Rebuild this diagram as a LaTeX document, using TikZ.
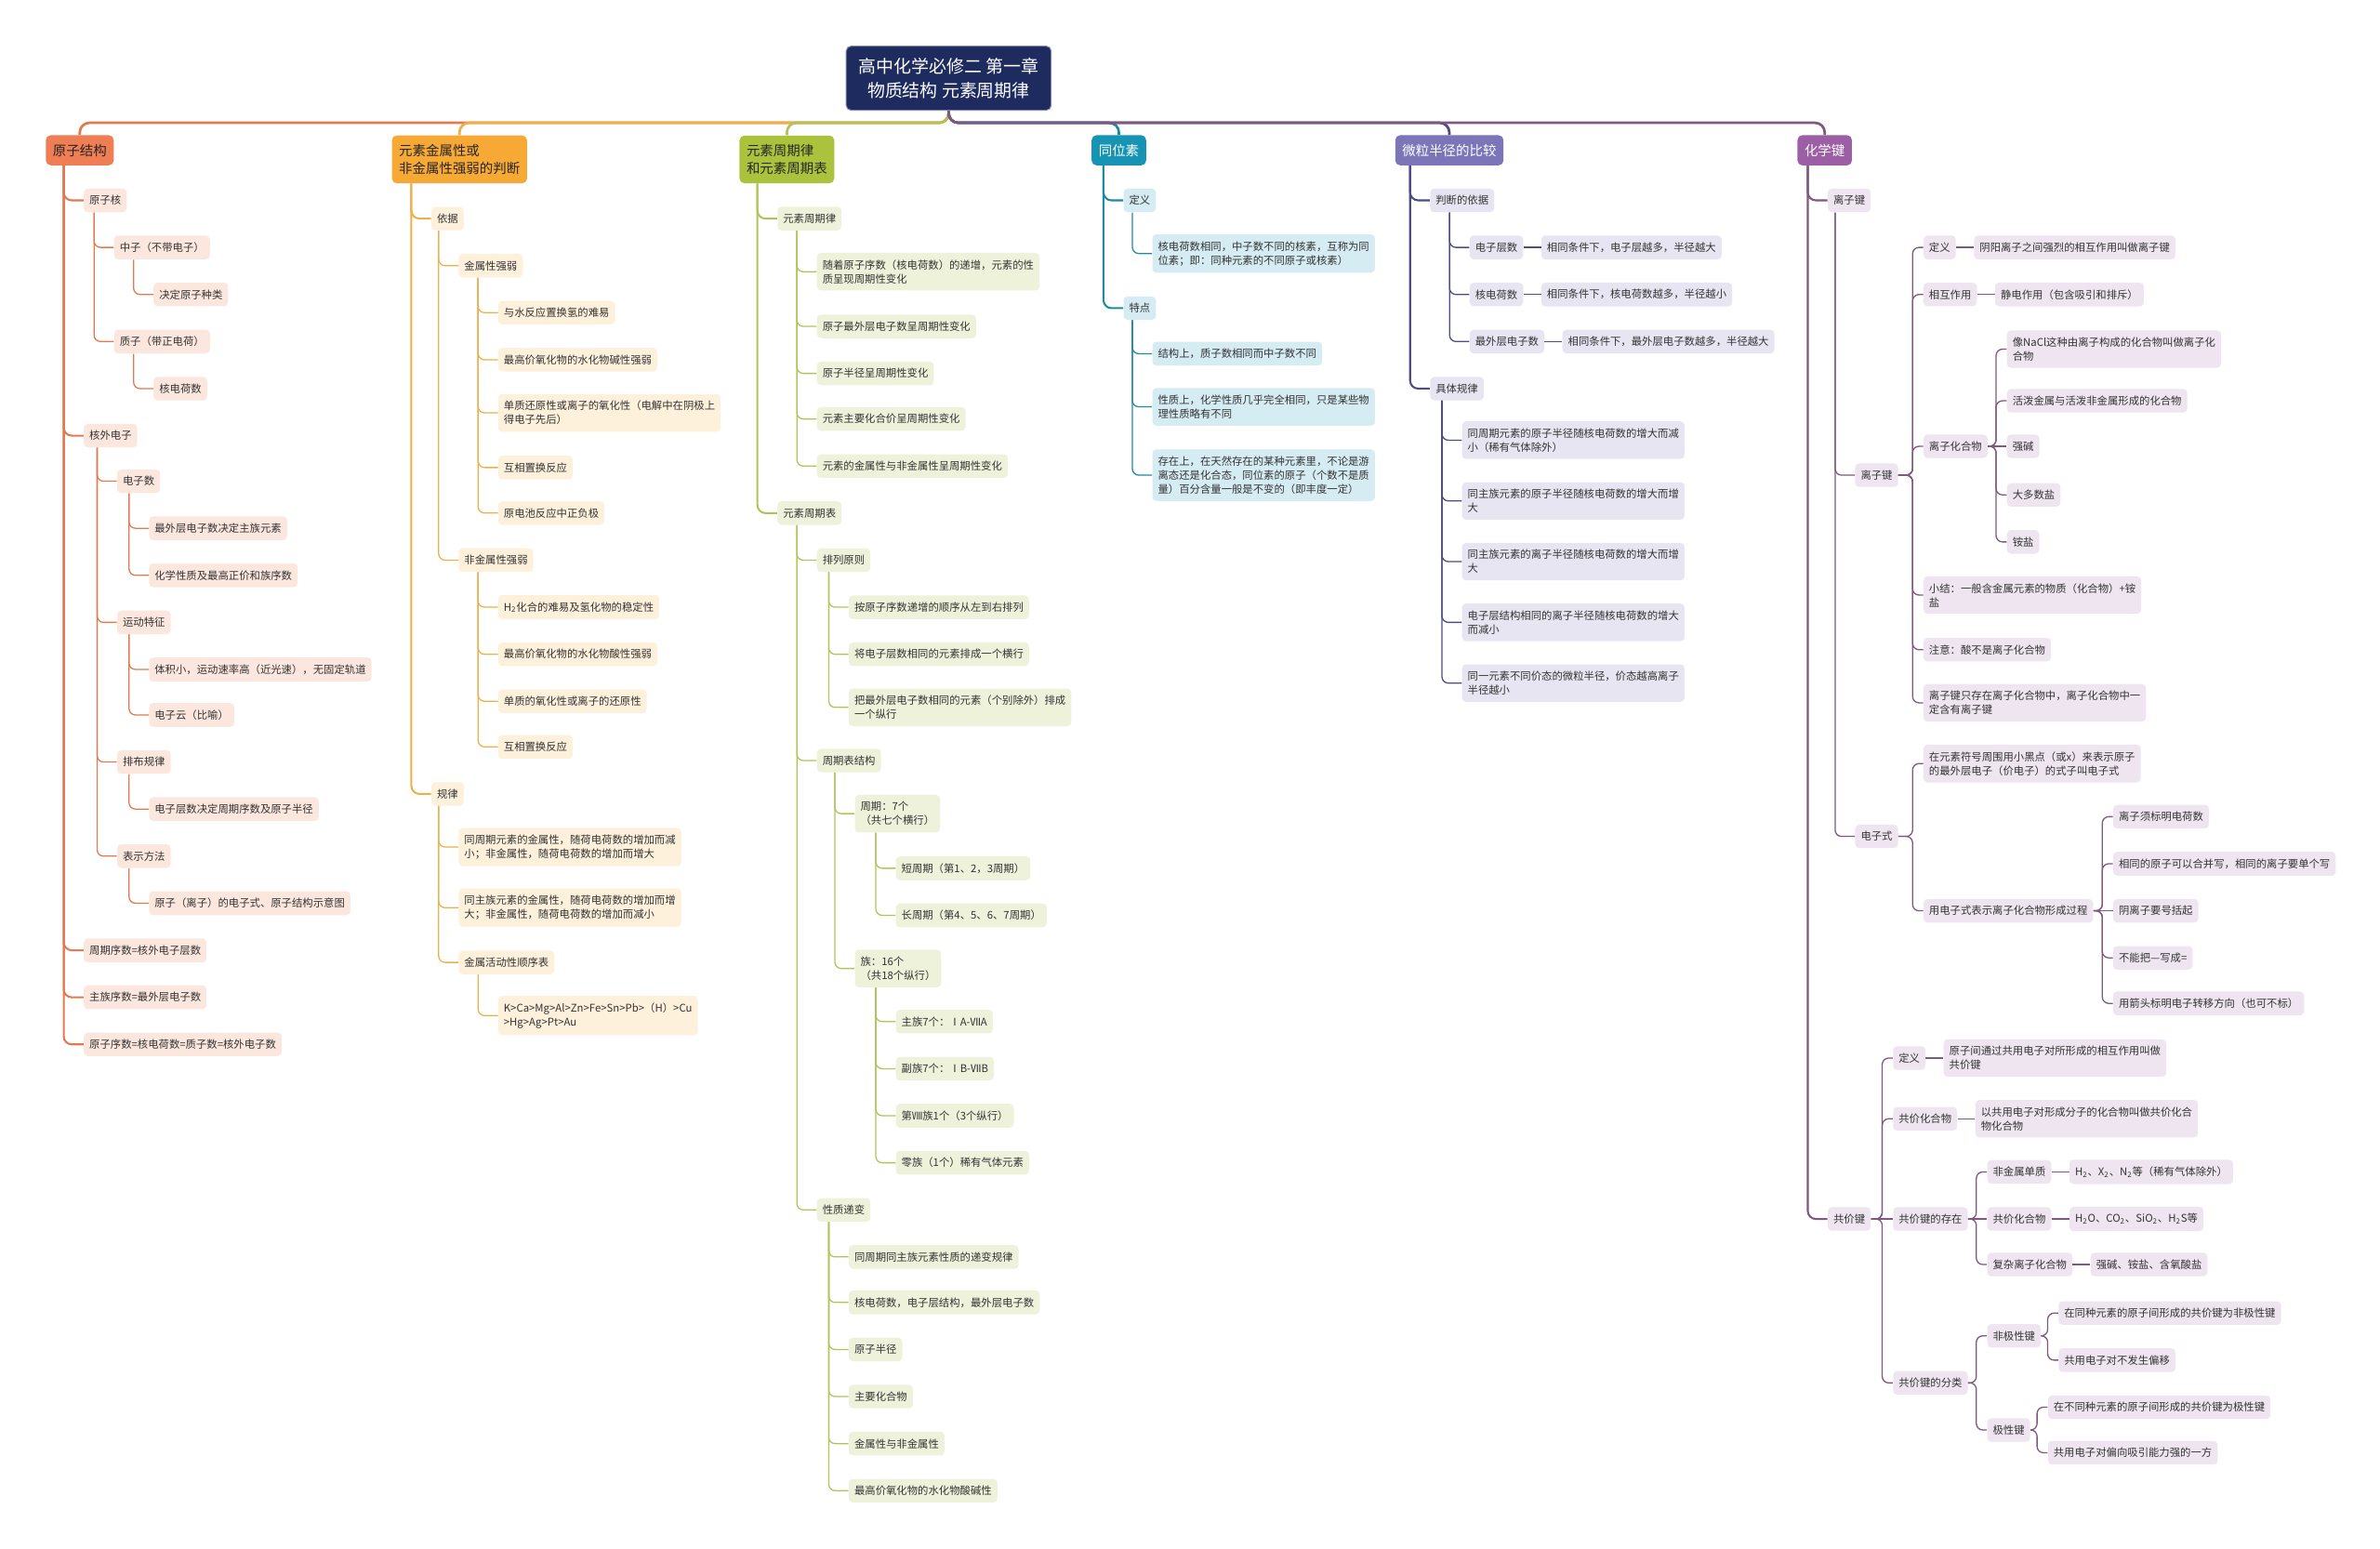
\documentclass[tikz,border=0pt]{standalone}
\usepackage{fontspec}
\setmainfont{Noto Sans CJK SC}
\usetikzlibrary{positioning}

\definecolor{aRoot}{HTML}{F07E55}
\definecolor{aLine}{HTML}{E07A52}
\definecolor{aFill}{HTML}{FCE7DE}
\definecolor{bRoot}{HTML}{F7A935}
\definecolor{bLine}{HTML}{EBB04A}
\definecolor{bFill}{HTML}{FDF1DC}
\definecolor{cRoot}{HTML}{ABC23C}
\definecolor{cLine}{HTML}{B4C25A}
\definecolor{cFill}{HTML}{EFF2DA}
\definecolor{dRoot}{HTML}{1794B3}
\definecolor{dLine}{HTML}{1F8AA3}
\definecolor{dFill}{HTML}{D5ECF3}
\definecolor{eRoot}{HTML}{7C76B9}
\definecolor{eLine}{HTML}{4E4C80}
\definecolor{eFill}{HTML}{E7E5F2}
\definecolor{fRoot}{HTML}{9C5FA6}
\definecolor{fLine}{HTML}{80577F}
\definecolor{fFill}{HTML}{EEE5F0}
\definecolor{titleBlue}{HTML}{1E2B5F}
\definecolor{txt}{HTML}{333333}

\begin{document}
\begin{tikzpicture}[x=0.03333cm,y=-0.03333cm,
  every node/.style={anchor=west,align=left,rounded corners=2.5pt,inner xsep=3.5pt,inner ysep=4.3pt,text=txt,font=\fontsize{6.6}{8.7}\selectfont},
  rootbox/.style={inner xsep=4.4pt,inner ysep=5.5pt,rounded corners=3pt,font=\fontsize{8.4}{11}\selectfont},
  titlebox/.style={anchor=center,align=center,fill=titleBlue,draw=titleBlue!55!white,line width=0.6pt,text=white,minimum width=128pt,minimum height=40pt,rounded corners=3pt,font=\fontsize{11}{15}\selectfont},
  rootA/.style={rootbox,fill=aRoot,text=black!85},
  rootB/.style={rootbox,fill=bRoot,text=black!85},
  rootC/.style={rootbox,fill=cRoot,text=black!85},
  rootD/.style={rootbox,fill=dRoot,text=white},
  rootE/.style={rootbox,fill=eRoot,text=white},
  rootF/.style={rootbox,fill=fRoot,text=white},
  boxA/.style={fill=aFill}, boxB/.style={fill=bFill}, boxC/.style={fill=cFill},
  boxD/.style={fill=dFill}, boxE/.style={fill=eFill}, boxF/.style={fill=fFill},
  topline/.style={line width=1.6pt,rounded corners=6pt},
  trunkline/.style={line width=1.2pt,rounded corners=5pt},
  twigline/.style={line width=0.75pt,rounded corners=4pt}]

\fill[white] (0,0) rectangle (1568,1020);

\node[titlebox] (title) at (625,51.5) {高中化学必修二 第一章\\物质结构 元素周期律};

% 原子结构
\node[rootA] (a0) at (30,99) {原子结构};
\node[boxA] (a1) at (55,132) {原子核};
\node[boxA] (a2) at (75,163) {中子（不带电子）};
\node[boxA] (a3) at (101,194) {决定原子种类};
\node[boxA] (a4) at (75,225) {质子（带正电荷）};
\node[boxA] (a5) at (101,256) {核电荷数};
\node[boxA] (a6) at (55,287) {核外电子};
\node[boxA] (a7) at (77,317) {电子数};
\node[boxA] (a8) at (98,348) {最外层电子数决定主族元素};
\node[boxA] (a9) at (98,379) {化学性质及最高正价和族序数};
\node[boxA] (a10) at (77,410) {运动特征};
\node[boxA] (a11) at (98,441) {体积小，运动速率高（近光速），无固定轨道};
\node[boxA] (a12) at (98,471) {电子云（比喻）};
\node[boxA] (a13) at (77,502) {排布规律};
\node[boxA] (a14) at (98,533) {电子层数决定周期序数及原子半径};
\node[boxA] (a15) at (77,564) {表示方法};
\node[boxA] (a16) at (98,595) {原子（离子）的电子式、原子结构示意图};
\node[boxA] (a17) at (55,626) {周期序数=核外电子层数};
\node[boxA] (a18) at (55,657) {主族序数=最外层电子数};
\node[boxA] (a19) at (55,688) {原子序数=核电荷数=质子数=核外电子数};

% 元素金属性或非金属性强弱的判断
\node[rootB] (b0) at (258,105) {元素金属性或\\非金属性强弱的判断};
\node[boxB] (b1) at (284,144) {依据};
\node[boxB] (b2) at (302,175) {金属性强弱};
\node[boxB] (b3) at (328,206) {与水反应置换氢的难易};
\node[boxB] (b4) at (328,237) {最高价氧化物的水化物碱性强弱};
\node[boxB] (b5) at (328,272) {单质还原性或离子的氧化性（电解中在阴极上\\得电子先后）};
\node[boxB] (b6) at (328,308) {互相置换反应};
\node[boxB] (b7) at (328,338) {原电池反应中正负极};
\node[boxB] (b8) at (302,369) {非金属性强弱};
\node[boxB] (b9) at (328,400) {H\textsubscript{2}化合的难易及氢化物的稳定性};
\node[boxB] (b10) at (328,431) {最高价氧化物的水化物酸性强弱};
\node[boxB] (b11) at (328,462) {单质的氧化性或离子的还原性};
\node[boxB] (b12) at (328,492) {互相置换反应};
\node[boxB] (b13) at (284,523) {规律};
\node[boxB] (b14) at (302,558) {同周期元素的金属性，随荷电荷数的增加而减\\小；非金属性，随荷电荷数的增加而增大};
\node[boxB] (b15) at (302,598) {同主族元素的金属性，随荷电荷数的增加而增\\大；非金属性，随荷电荷数的增加而减小};
\node[boxB] (b16) at (302,634) {金属活动性顺序表};
\node[boxB] (b17) at (328,669) {K>Ca>Mg>Al>Zn>Fe>Sn>Pb>（H）>Cu\\>Hg>Ag>Pt>Au};

% 元素周期律和元素周期表
\node[rootC] (c0) at (487,105) {元素周期律\\和元素周期表};
\node[boxC] (c1) at (512,144) {元素周期律};
\node[boxC] (c2) at (538,179) {随着原子序数（核电荷数）的递增，元素的性\\质呈现周期性变化};
\node[boxC] (c3) at (538,215) {原子最外层电子数呈周期性变化};
\node[boxC] (c4) at (538,246) {原子半径呈周期性变化};
\node[boxC] (c5) at (538,276) {元素主要化合价呈周期性变化};
\node[boxC] (c6) at (538,307) {元素的金属性与非金属性呈周期性变化};
\node[boxC] (c7) at (512,338) {元素周期表};
\node[boxC] (c8) at (538,369) {排列原则};
\node[boxC] (c9) at (559,400) {按原子序数递增的顺序从左到右排列};
\node[boxC] (c10) at (559,431) {将电子层数相同的元素排成一个横行};
\node[boxC] (c11) at (559,466) {把最外层电子数相同的元素（个别除外）排成\\一个纵行};
\node[boxC] (c12) at (538,501) {周期表结构};
\node[boxC] (c13) at (563,536) {周期：7个\\（共七个横行）};
\node[boxC] (c14) at (590,572) {短周期（第1、2，3周期）};
\node[boxC] (c15) at (590,603) {长周期（第4、5、6、7周期）};
\node[boxC] (c16) at (563,638) {族：16个\\（共18个纵行）};
\node[boxC] (c17) at (590,673) {主族7个：ⅠA-ⅦA};
\node[boxC] (c18) at (590,704) {副族7个：ⅠB-ⅦB};
\node[boxC] (c19) at (590,735) {第Ⅷ族1个（3个纵行）};
\node[boxC] (c20) at (590,766) {零族（1个）稀有气体元素};
\node[boxC] (c21) at (538,797) {性质递变};
\node[boxC] (c22) at (559,828) {同周期同主族元素性质的递变规律};
\node[boxC] (c23) at (559,858) {核电荷数，电子层结构，最外层电子数};
\node[boxC] (c24) at (559,889) {原子半径};
\node[boxC] (c25) at (559,920) {主要化合物};
\node[boxC] (c26) at (559,951) {金属性与非金属性};
\node[boxC] (c27) at (559,982) {最高价氧化物的水化物酸碱性};

% 同位素
\node[rootD] (d0) at (719,99) {同位素};
\node[boxD] (d1) at (740,132) {定义};
\node[boxD] (d2) at (759,167) {核电荷数相同，中子数不同的核素，互称为同\\位素；即：同种元素的不同原子或核素）};
\node[boxD] (d3) at (740,203) {特点};
\node[boxD] (d4) at (759,233) {结构上，质子数相同而中子数不同};
\node[boxD] (d5) at (759,268) {性质上，化学性质几乎完全相同，只是某些物\\理性质略有不同};
\node[boxD] (d6) at (759,313) {存在上，在天然存在的某种元素里，不论是游\\离态还是化合态，同位素的原子（个数不是质\\量）百分含量一般是不变的（即丰度一定）};

% 微粒半径的比较
\node[rootE] (e0) at (919,99) {微粒半径的比较};
\node[boxE] (e1) at (942,132) {判断的依据};
\node[boxE] (e2) at (968,163) {电子层数};
\node[boxE,right=11pt of e2] (e2r) {相同条件下，电子层越多，半径越大};
\node[boxE] (e3) at (968,194) {核电荷数};
\node[boxE,right=11pt of e3] (e3r) {相同条件下，核电荷数越多，半径越小};
\node[boxE] (e4) at (968,225) {最外层电子数};
\node[boxE,right=11pt of e4] (e4r) {相同条件下，最外层电子数越多，半径越大};
\node[boxE] (e5) at (942,256) {具体规律};
\node[boxE] (e6) at (963,290) {同周期元素的原子半径随核电荷数的增大而减\\小（稀有气体除外）};
\node[boxE] (e7) at (963,330) {同主族元素的原子半径随核电荷数的增大而增\\大};
\node[boxE] (e8) at (963,370) {同主族元素的离子半径随核电荷数的增大而增\\大};
\node[boxE] (e9) at (963,410) {电子层结构相同的离子半径随核电荷数的增大\\而减小};
\node[boxE] (e10) at (963,450) {同一元素不同价态的微粒半径，价态越高离子\\半径越小};

% 化学键
\node[rootF] (f0) at (1184,99) {化学键};
\node[boxF] (f1) at (1204,132) {离子键};
\node[boxF] (f2) at (1222,313) {离子键};
\node[boxF] (f3) at (1267,163) {定义};
\node[boxF,right=11pt of f3] (f3r) {阴阳离子之间强烈的相互作用叫做离子键};
\node[boxF] (f4) at (1267,194) {相互作用};
\node[boxF,right=11pt of f4] (f4r) {静电作用（包含吸引和排斥）};
\node[boxF] (f5) at (1267,294) {离子化合物};
\node[boxF] (f6) at (1322,230) {像NaCl这种由离子构成的化合物叫做离子化\\合物};
\node[boxF] (f7) at (1322,264) {活泼金属与活泼非金属形成的化合物};
\node[boxF] (f8) at (1322,294) {强碱};
\node[boxF] (f9) at (1322,326) {大多数盐};
\node[boxF] (f10) at (1322,357) {铵盐};
\node[boxF] (f11) at (1267,392) {小结：一般含金属元素的物质（化合物）+铵\\盐};
\node[boxF] (f12) at (1267,428) {注意：酸不是离子化合物};
\node[boxF] (f13) at (1267,463) {离子键只存在离子化合物中，离子化合物中一\\定含有离子键};
\node[boxF] (f14) at (1222,551) {电子式};
\node[boxF] (f15) at (1267,503) {在元素符号周围用小黑点（或x）来表示原子\\的最外层电子（价电子）的式子叫电子式};
\node[boxF] (f16) at (1267,600) {用电子式表示离子化合物形成过程};
\node[boxF] (f17) at (1392,538) {离子须标明电荷数};
\node[boxF] (f18) at (1392,569) {相同的原子可以合并写，相同的离子要单个写};
\node[boxF] (f19) at (1392,600) {阴离子要号括起};
\node[boxF] (f20) at (1392,631) {不能把—写成=};
\node[boxF] (f21) at (1392,661) {用箭头标明电子转移方向（也可不标）};
\node[boxF] (f22) at (1204,803) {共价键};
\node[boxF] (f23) at (1247,697) {定义};
\node[boxF,right=11pt of f23] (f23r) {原子间通过共用电子对所形成的相互作用叫做\\共价键};
\node[boxF] (f24) at (1247,737) {共价化合物};
\node[boxF,right=11pt of f24] (f24r) {以共用电子对形成分子的化合物叫做共价化合\\物化合物};
\node[boxF] (f25) at (1247,803) {共价键的存在};
\node[boxF] (f26) at (1309,772) {非金属单质};
\node[boxF,right=11pt of f26] (f26r) {H\textsubscript{2}、X\textsubscript{2}、N\textsubscript{2}等（稀有气体除外）};
\node[boxF] (f27) at (1309,803) {共价化合物};
\node[boxF,right=11pt of f27] (f27r) {H\textsubscript{2}O、CO\textsubscript{2}、SiO\textsubscript{2}、H\textsubscript{2}S等};
\node[boxF] (f28) at (1309,833) {复杂离子化合物};
\node[boxF,right=11pt of f28] (f28r) {强碱、铵盐、含氧酸盐};
\node[boxF] (f29) at (1247,911) {共价键的分类};
\node[boxF] (f30) at (1309,880) {非极性键};
\node[boxF] (f31) at (1356,865) {在同种元素的原子间形成的共价键为非极性键};
\node[boxF] (f32) at (1356,896) {共用电子对不发生偏移};
\node[boxF] (f33) at (1309,942) {极性键};
\node[boxF] (f34) at (1349,927) {在不同种元素的原子间形成的共价键为极性键};
\node[boxF] (f35) at (1349,957) {共用电子对偏向吸引能力强的一方};

% title to branches
\draw[topline,aLine] (title.south) -- ++(0,8) -| (a0.north);
\draw[topline,bLine] (title.south) -- ++(0,8) -| (b0.north);
\draw[topline,cLine] (title.south) -- ++(0,8) -| (c0.north);
\draw[topline,dLine] (title.south) -- ++(0,8) -| (d0.north);
\draw[topline,eLine] (title.south) -- ++(0,8) -| (e0.north);
\draw[topline,fLine] (title.south) -- ++(0,8) -| (f0.north);

% 原子结构
\foreach \c in {a1,a6,a17,a18,a19} \draw[trunkline,aLine] (a0.south -| \c.west) ++(-13,0) |- (\c.west);
\foreach \c in {a2,a4} \draw[twigline,aLine] (a1.south -| \c.west) ++(-13,0) |- (\c.west);
\draw[twigline,aLine] (a2.south -| a3.west) ++(-13,0) |- (a3.west);
\draw[twigline,aLine] (a4.south -| a5.west) ++(-13,0) |- (a5.west);
\foreach \c in {a7,a10,a13,a15} \draw[twigline,aLine] (a6.south -| \c.west) ++(-13,0) |- (\c.west);
\foreach \c in {a8,a9} \draw[twigline,aLine] (a7.south -| \c.west) ++(-13,0) |- (\c.west);
\foreach \c in {a11,a12} \draw[twigline,aLine] (a10.south -| \c.west) ++(-13,0) |- (\c.west);
\draw[twigline,aLine] (a13.south -| a14.west) ++(-13,0) |- (a14.west);
\draw[twigline,aLine] (a15.south -| a16.west) ++(-13,0) |- (a16.west);

% 金属性判断
\foreach \c in {b1,b13} \draw[trunkline,bLine] (b0.south -| \c.west) ++(-13,0) |- (\c.west);
\foreach \c in {b2,b8} \draw[twigline,bLine] (b1.south -| \c.west) ++(-13,0) |- (\c.west);
\foreach \c in {b3,b4,b5,b6,b7} \draw[twigline,bLine] (b2.south -| \c.west) ++(-13,0) |- (\c.west);
\foreach \c in {b9,b10,b11,b12} \draw[twigline,bLine] (b8.south -| \c.west) ++(-13,0) |- (\c.west);
\foreach \c in {b14,b15,b16} \draw[twigline,bLine] (b13.south -| \c.west) ++(-13,0) |- (\c.west);
\draw[twigline,bLine] (b16.south -| b17.west) ++(-13,0) |- (b17.west);

% 周期律
\foreach \c in {c1,c7} \draw[trunkline,cLine] (c0.south -| \c.west) ++(-13,0) |- (\c.west);
\foreach \c in {c2,c3,c4,c5,c6} \draw[twigline,cLine] (c1.south -| \c.west) ++(-13,0) |- (\c.west);
\foreach \c in {c8,c12,c21} \draw[twigline,cLine] (c7.south -| \c.west) ++(-13,0) |- (\c.west);
\foreach \c in {c9,c10,c11} \draw[twigline,cLine] (c8.south -| \c.west) ++(-13,0) |- (\c.west);
\foreach \c in {c13,c16} \draw[twigline,cLine] (c12.south -| \c.west) ++(-13,0) |- (\c.west);
\foreach \c in {c14,c15} \draw[twigline,cLine] (c13.south -| \c.west) ++(-13,0) |- (\c.west);
\foreach \c in {c17,c18,c19,c20} \draw[twigline,cLine] (c16.south -| \c.west) ++(-13,0) |- (\c.west);
\foreach \c in {c22,c23,c24,c25,c26,c27} \draw[twigline,cLine] (c21.south -| \c.west) ++(-13,0) |- (\c.west);

% 同位素
\foreach \c in {d1,d3} \draw[trunkline,dLine] (d0.south -| \c.west) ++(-13,0) |- (\c.west);
\draw[twigline,dLine] (d1.south -| d2.west) ++(-13,0) |- (d2.west);
\foreach \c in {d4,d5,d6} \draw[twigline,dLine] (d3.south -| \c.west) ++(-13,0) |- (\c.west);

% 微粒半径
\foreach \c in {e1,e5} \draw[trunkline,eLine] (e0.south -| \c.west) ++(-13,0) |- (\c.west);
\foreach \c in {e2,e3,e4} \draw[twigline,eLine] (e1.south -| \c.west) ++(-13,0) |- (\c.west);
\foreach \c in {e2,e3,e4} \draw[twigline,eLine] (\c.east) -- (\c r.west);
\foreach \c in {e6,e7,e8,e9,e10} \draw[twigline,eLine] (e5.south -| \c.west) ++(-13,0) |- (\c.west);

% 化学键
\foreach \c in {f1,f22} \draw[trunkline,fLine] (f0.south -| \c.west) ++(-13,0) |- (\c.west);
\foreach \c in {f2,f14} \draw[twigline,fLine] (f1.south -| \c.west) ++(-13,0) |- (\c.west);
\foreach \c in {f3,f4,f5,f11,f12,f13} \draw[twigline,fLine] (f2.east) -| ([xshift=-6.6pt]\c.west) -- (\c.west);
\foreach \c in {f6,f7,f9,f10} \draw[twigline,fLine] (f5.east) -| ([xshift=-6.6pt]\c.west) -- (\c.west);
\draw[twigline,fLine] (f5.east) -- (f8.west);
\foreach \c in {f15,f16} \draw[twigline,fLine] (f14.east) -| ([xshift=-6.6pt]\c.west) -- (\c.west);
\foreach \c in {f17,f18,f20,f21} \draw[twigline,fLine] (f16.east) -| ([xshift=-6.6pt]\c.west) -- (\c.west);
\draw[twigline,fLine] (f16.east) -- (f19.west);
\foreach \c in {f23,f24,f29} \draw[twigline,fLine] (f22.east) -| ([xshift=-6.6pt]\c.west) -- (\c.west);
\draw[twigline,fLine] (f22.east) -- (f25.west);
\foreach \c in {f26,f28} \draw[twigline,fLine] (f25.east) -| ([xshift=-6.6pt]\c.west) -- (\c.west);
\draw[twigline,fLine] (f25.east) -- (f27.west);
\foreach \c in {f30,f33} \draw[twigline,fLine] (f29.east) -| ([xshift=-6.6pt]\c.west) -- (\c.west);
\foreach \c in {f31,f32} \draw[twigline,fLine] (f30.east) -| ([xshift=-6.6pt]\c.west) -- (\c.west);
\foreach \c in {f34,f35} \draw[twigline,fLine] (f33.east) -| ([xshift=-6.6pt]\c.west) -- (\c.west);
\foreach \c in {f3,f4,f23,f24,f26,f27,f28} \draw[twigline,fLine] (\c.east) -- (\c r.west);

\end{tikzpicture}
\end{document}
